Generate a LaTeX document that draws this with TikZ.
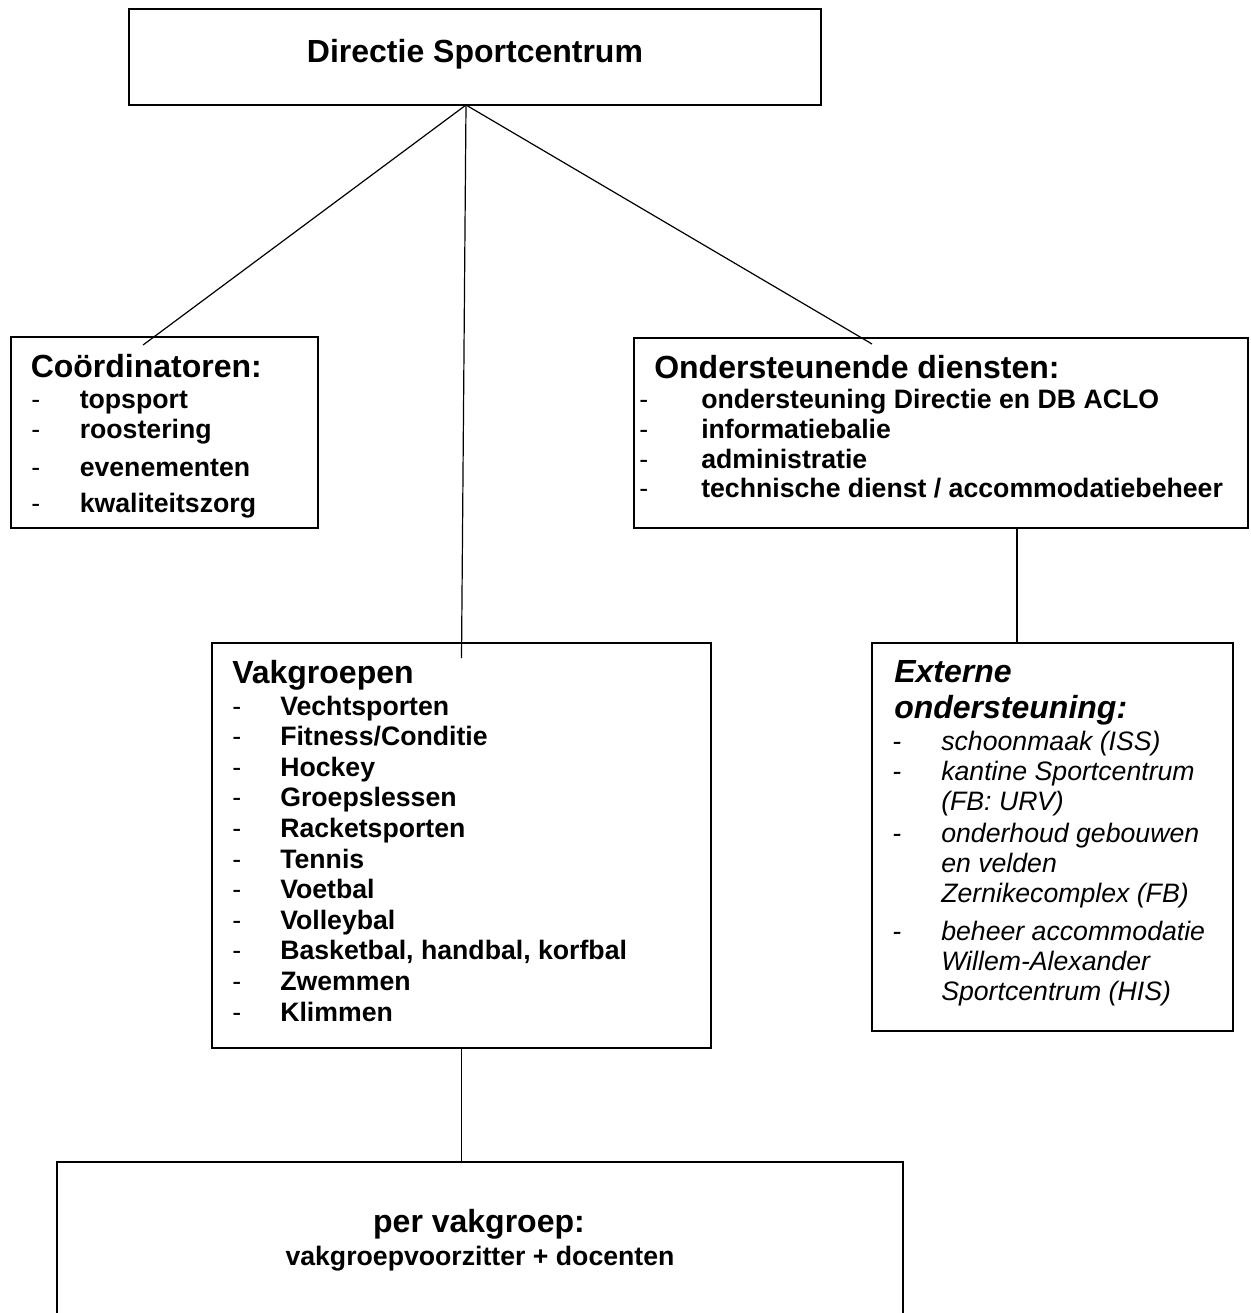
\documentclass[tikz,border=0pt]{standalone}
\usepackage{fontspec}
\setmainfont{Liberation Sans}
\begin{document}
\begin{tikzpicture}[x=0.75pt,y=-0.75pt,
  box/.style={draw, line width=1.2pt, inner sep=0pt, outer sep=0pt},
  link/.style={line width=0.9pt},
  head/.style={inner sep=0pt, anchor=base west, font=\fontsize{24pt}{28pt}\selectfont\bfseries},
  item/.style={inner sep=0pt, anchor=base west, font=\fontsize{20pt}{24pt}\selectfont\bfseries},
  dashmark/.style={inner sep=0pt, anchor=base west, font=\fontsize{20pt}{24pt}\selectfont},
  ihead/.style={head, font=\fontsize{24pt}{28pt}\selectfont\bfseries\itshape},
  iitem/.style={item, font=\fontsize{20pt}{24pt}\selectfont\itshape},
  idash/.style={dashmark, font=\fontsize{20pt}{24pt}\selectfont\itshape},
  ctext/.style={inner sep=0pt, anchor=base}
]
\useasboundingbox (0,0) rectangle (1250,1313);

% boxes
\node[box, minimum width=519pt, minimum height=72pt] (dir) at (475,57) {};
\node[box, minimum width=230.25pt, minimum height=143.25pt] (coord) at (164.5,432.5) {};
\node[box, minimum width=460.5pt, minimum height=142.5pt] (ond) at (941,433) {};
\node[box, minimum width=374.25pt, minimum height=303.75pt] (vak) at (461.5,845.5) {};
\node[box, minimum width=270.75pt, minimum height=291pt] (ext) at (1052.5,837) {};
\node[box, minimum width=634.5pt, minimum height=133.5pt] (per) at (480,1251) {};

% connectors
\coordinate (apex) at ([xshift=-6.75pt]dir.south);
\draw[link] (apex) -- ([xshift=-16.1pt,yshift=-6pt]coord.north);
\draw[link] (apex) -- ([yshift=-11.25pt]vak.north);
\draw[link] (apex) -- ([xshift=-51.75pt,yshift=-4.5pt]ond.north);
\draw[link] ([xshift=57pt]ond.south) -- ([xshift=57pt]ond.south |- ext.north);
\draw[link] (vak.south) -- (vak.south |- per.north);

% top
\node[ctext, font=\fontsize{24pt}{28pt}\selectfont\bfseries] (dirt) at (475,63) {Directie Sportcentrum};

% coordinators
\node[head] (coordh) at (30.5,377) {Coördinatoren:};
\foreach \t/\y [count=\i] in {{topsport}/408, {roostering}/438, {evenementen}/476, {kwaliteitszorg}/512} {
  \node[dashmark] (cd\i) at (31,\y) {-};
  \node[item] (ci\i) at (79.5,\y) {\t};
}

% support services
\node[head] (ondh) at (654,378) {Ondersteunende diensten:};
\foreach \t/\y [count=\i] in {{ondersteuning Directie en DB ACLO}/408, {informatiebalie}/438, {administratie}/468, {technische dienst / accommodatiebeheer}/497} {
  \node[dashmark] (od\i) at (639,\y) {-};
  \node[item] (oi\i) at (701,\y) {\t};
}

% subject groups
\node[head] (vakh) at (232,683) {Vakgroepen};
\foreach \t/\y [count=\i] in {{Vechtsporten}/715, {Fitness/Conditie}/745.6, {Hockey}/776, {Groepslessen}/806.8, {Racketsporten}/837.4, {Tennis}/868, {Voetbal}/898.6, {Volleybal}/929.2, {Basketbal, handbal, korfbal}/959.8, {Zwemmen}/990.4, {Klimmen}/1021} {
  \node[dashmark] (vd\i) at (232,\y) {-};
  \node[item] (vi\i) at (280,\y) {\t};
}

% external support
\node[ihead] (exth1) at (894,682) {Externe};
\node[ihead] (exth2) at (894,718) {ondersteuning:};
\foreach \y [count=\i] in {750, 780, 842, 940} {
  \node[idash] (ed\i) at (892,\y) {-};
}
\foreach \t/\y [count=\i] in {{schoonmaak (ISS)}/750, {kantine Sportcentrum}/780, {(FB: URV)}/810, {onderhoud gebouwen}/842, {en velden}/872, {Zernikecomplex (FB)}/902, {beheer accommodatie}/940, {Willem-Alexander}/970, {Sportcentrum (HIS)}/1000} {
  \node[iitem] (ei\i) at (941,\y) {\t};
}

% per subject group
\node[ctext, font=\fontsize{24pt}{28pt}\selectfont\bfseries] (pert1) at (479,1232) {per vakgroep:};
\node[ctext, font=\fontsize{20pt}{24pt}\selectfont\bfseries] (pert2) at (480,1265) {vakgroepvoorzitter + docenten};
\end{tikzpicture}
\end{document}
